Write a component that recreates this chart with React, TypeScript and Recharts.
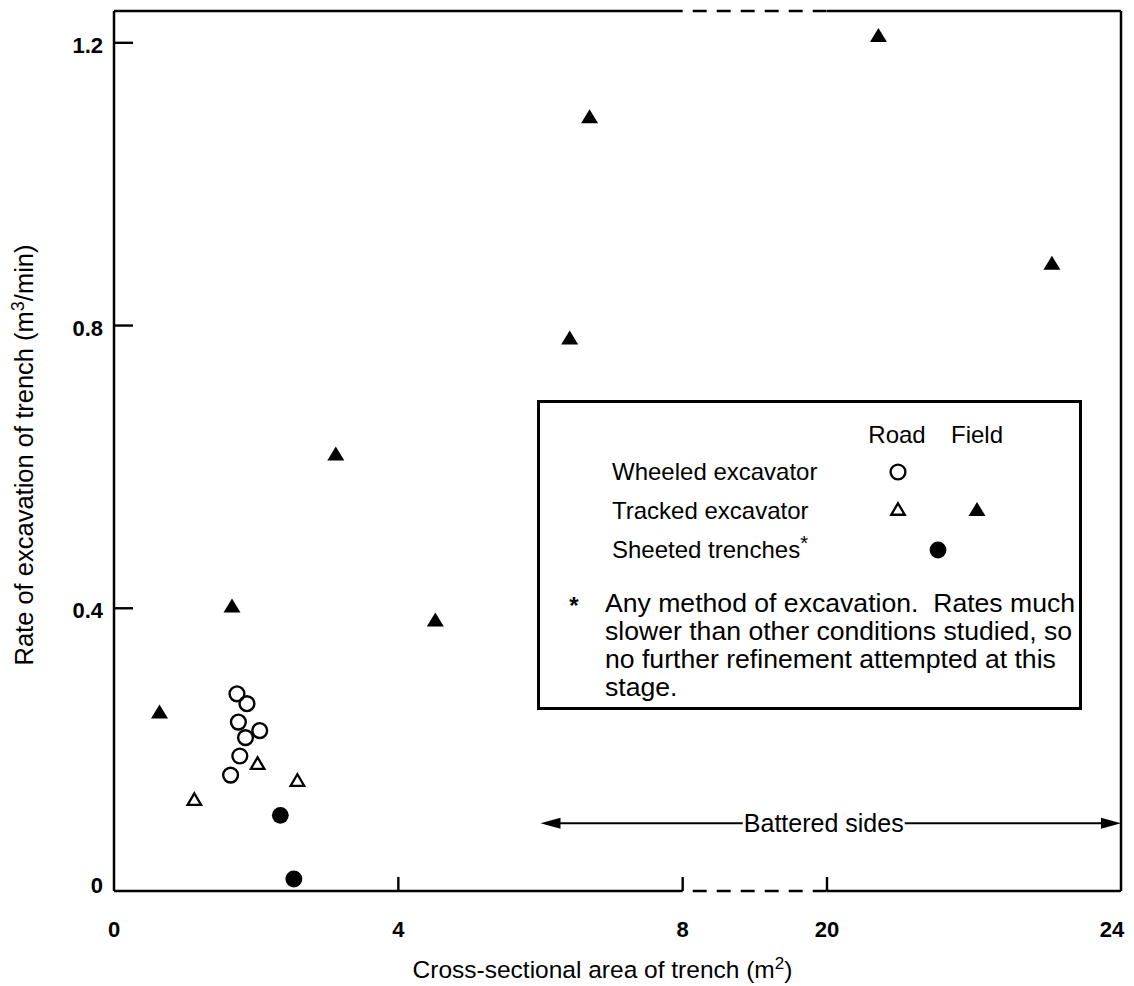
import { ScatterChart, Scatter, XAxis, YAxis, ReferenceLine, Legend } from "recharts";

const INK = "#000";
const FONT = "'Liberation Sans', Arial, Helvetica, sans-serif";

// x axis is broken between 8 and 20; the right-hand piece is drawn a touch wider, as in the original
const BREAK_LO = 8;
const BREAK_HI = 20;
const BREAK_GAP = 2.03;
const RIGHT_SCALE = 1.034;
const toAxis = (x: number) => (x <= BREAK_LO ? x : BREAK_LO + BREAK_GAP + (x - BREAK_HI) * RIGHT_SCALE);

const xTickValues = [0, 4, 8, 20, 24];
const yTickValues = [0, 0.4, 0.8, 1.2];
const X_MAX = 24;
const Y_MAX = 1.245;

// cross-sectional area (m2) / rate of excavation (m3/min)
const wheeledRoadArea = [1.73, 1.87, 1.75, 2.05, 1.85, 1.77, 1.64];
const wheeledRoadRate = [0.279, 0.265, 0.239, 0.227, 0.217, 0.191, 0.164];
const trackedRoadArea = [2.02, 2.58, 1.13];
const trackedRoadRate = [0.181, 0.157, 0.13];
const trackedFieldArea = [0.64, 1.66, 3.12, 4.52, 6.41, 6.69, 20.7, 23.06];
const trackedFieldRate = [0.254, 0.404, 0.619, 0.384, 0.783, 1.096, 1.211, 0.889];
const sheetedArea = [2.34, 2.53];
const sheetedRate = [0.107, 0.017];

const batteredFrom = 6;
const batteredTo = 24;
const batteredLevel = 0.096;

const legendRows = ["Wheeled excavator", "Tracked excavator", "Sheeted trenches"];
const footnoteLines = [
  "Any method of excavation.  Rates much",
  "slower than other conditions studied, so",
  "no further refinement attempted at this",
  "stage.",
];

const toPoints = (xs: number[], ys: number[]) => xs.map((x, i) => ({ t: toAxis(x), rate: ys[i] }));

const tri = (cx: number, cy: number, w: number, h: number) =>
  `${cx},${cy - h / 2} ${cx + w / 2},${cy + h / 2} ${cx - w / 2},${cy + h / 2}`;

function OpenCircle({ cx, cy }: any) {
  return <circle cx={cx} cy={cy} r={7.4} fill="none" stroke={INK} strokeWidth={2.4} />;
}
function FilledCircle({ cx, cy }: any) {
  return <circle cx={cx} cy={cy} r={8.4} fill={INK} />;
}
function OpenTriangle({ cx, cy }: any) {
  return <polygon points={tri(cx, cy, 13.5, 11.5)} fill="none" stroke={INK} strokeWidth={2.3} />;
}
function FilledTriangle({ cx, cy }: any) {
  return <polygon points={tri(cx, cy, 17, 14)} fill={INK} />;
}

function XTick({ x, y, payload }: any) {
  const label = xTickValues.find((v) => Math.abs(toAxis(v) - payload.value) < 1e-6);
  const inner = label !== 0 && label !== X_MAX;
  return (
    <g>
      {inner && <line x1={x} y1={y} x2={x} y2={y - 14} stroke={INK} strokeWidth={2.4} />}
      <text
        x={label === X_MAX ? x - 9 : x}
        y={y + 46}
        textAnchor="middle"
        fontSize={22}
        fontWeight={700}
        fontFamily={FONT}
        fill={INK}
      >
        {label}
      </text>
    </g>
  );
}

function YTick({ x, y, payload }: any) {
  const v = payload.value;
  return (
    <g>
      {v !== 0 && <line x1={x} y1={y} x2={x + 19} y2={y} stroke={INK} strokeWidth={2.4} />}
      <text
        x={x - 11}
        y={v === 0 ? y + 2 : y + 10}
        textAnchor="end"
        fontSize={22}
        fontWeight={700}
        fontFamily={FONT}
        fill={INK}
      >
        {v === 0 ? "0" : v.toFixed(1)}
      </text>
    </g>
  );
}

function XTitle({ viewBox }: any) {
  const cx = viewBox.x + viewBox.width / 2 - 15;
  return (
    <text x={cx} y={viewBox.y + 87} textAnchor="middle" fontSize={24.5} fontFamily={FONT} fill={INK}>
      Cross-sectional area of trench (m
      <tspan fontSize={17} dy={-9}>2</tspan>
      <tspan dy={9}>)</tspan>
    </text>
  );
}

function YTitle({ viewBox }: any) {
  const cy = viewBox.y + viewBox.height / 2 + 4;
  const x = 33;
  return (
    <text
      x={x}
      y={cy}
      transform={`rotate(-90, ${x}, ${cy})`}
      textAnchor="middle"
      fontSize={25.5}
      fontFamily={FONT}
      fill={INK}
    >
      Rate of excavation of trench (m
      <tspan fontSize={18} dy={-9}>3</tspan>
      <tspan dy={9}>/min)</tspan>
    </text>
  );
}

function BatteredArrow({ x1, y1, x2 }: any) {
  const head = 20;
  const half = 5.5;
  const mid = (x1 + x2) / 2 - 7;
  const gap = 81;
  return (
    <g>
      <line x1={x1 + head - 2} y1={y1} x2={mid - gap} y2={y1} stroke={INK} strokeWidth={2} />
      <line x1={mid + gap} y1={y1} x2={x2 - head + 2} y2={y1} stroke={INK} strokeWidth={2} />
      <polygon points={`${x1},${y1} ${x1 + head},${y1 - half} ${x1 + head},${y1 + half}`} fill={INK} />
      <polygon points={`${x2},${y1} ${x2 - head},${y1 - half} ${x2 - head},${y1 + half}`} fill={INK} />
      <text x={mid} y={y1 + 9} textAnchor="middle" fontSize={25} fontFamily={FONT} fill={INK}>
        Battered sides
      </text>
    </g>
  );
}

function LegendBox() {
  const rowY = [80, 119, 158];
  return (
    <svg width={545} height={310} style={{ display: "block" }} fontFamily={FONT} fill={INK}>
      <rect x={1.5} y={1.5} width={542} height={307} fill="#fff" stroke={INK} strokeWidth={3} />
      <text x={360} y={43} textAnchor="middle" fontSize={24}>Road</text>
      <text x={440} y={43} textAnchor="middle" fontSize={24}>Field</text>
      {legendRows.map((label, i) => (
        <text key={label} x={75} y={rowY[i]} fontSize={24}>
          {label}
          {i === 2 && <tspan fontSize={20} dy={-8}>*</tspan>}
        </text>
      ))}
      <OpenCircle cx={361} cy={72} />
      <OpenTriangle cx={361} cy={109} />
      <FilledTriangle cx={440} cy={109} />
      <FilledCircle cx={401} cy={150} />
      <text x={37} y={214} textAnchor="middle" fontSize={24} fontWeight={700}>*</text>
      {footnoteLines.map((line, i) => (
        <text key={i} x={68} y={212 + i * 28} fontSize={26.6} style={{ whiteSpace: "pre" }}>
          {line}
        </text>
      ))}
    </svg>
  );
}

export default function App() {
  const frame = { stroke: INK, strokeWidth: 2.5 };
  const dashed = { ...frame, strokeDasharray: "14 10", strokeDashoffset: 14 };
  const lo = toAxis(BREAK_LO);
  const hi = toAxis(BREAK_HI);
  const xr = toAxis(X_MAX);
  return (
    <div style={{ position: "absolute", left: 0, top: 0, background: "#fff" }}>
      <ScatterChart width={1134} height={986} margin={{ top: 11, right: 13, bottom: 0, left: 0 }}>
        <XAxis
          type="number"
          dataKey="t"
          domain={[0, xr]}
          ticks={xTickValues.map(toAxis)}
          allowDataOverflow
          axisLine={false}
          tickLine={false}
          tickSize={0}
          tickMargin={0}
          height={95}
          tick={<XTick />}
          interval={0}
          label={<XTitle />}
        />
        <YAxis
          type="number"
          dataKey="rate"
          domain={[0, Y_MAX]}
          ticks={yTickValues}
          allowDataOverflow
          axisLine={frame}
          tickLine={false}
          tickSize={0}
          tickMargin={0}
          width={114}
          tick={<YTick />}
          interval={0}
          label={<YTitle />}
        />

        <ReferenceLine segment={[{ x: 0, y: 0 }, { x: lo, y: 0 }]} {...frame} />
        <ReferenceLine segment={[{ x: lo, y: 0 }, { x: hi, y: 0 }]} {...dashed} />
        <ReferenceLine segment={[{ x: hi, y: 0 }, { x: xr, y: 0 }]} {...frame} />
        <ReferenceLine segment={[{ x: 0, y: Y_MAX }, { x: lo, y: Y_MAX }]} {...frame} />
        <ReferenceLine segment={[{ x: lo, y: Y_MAX }, { x: hi, y: Y_MAX }]} {...dashed} />
        <ReferenceLine segment={[{ x: hi, y: Y_MAX }, { x: xr, y: Y_MAX }]} {...frame} />
        <ReferenceLine x={xr} {...frame} />
        <ReferenceLine
          segment={[
            { x: toAxis(batteredFrom), y: batteredLevel },
            { x: toAxis(batteredTo), y: batteredLevel },
          ]}
          shape={(p: any) => <BatteredArrow {...p} />}
        />

        <Scatter
          name="Wheeled excavator (road)"
          data={toPoints(wheeledRoadArea, wheeledRoadRate)}
          shape={(p: any) => <OpenCircle cx={p.cx} cy={p.cy} />}
          isAnimationActive={false}
        />
        <Scatter
          name="Tracked excavator (road)"
          data={toPoints(trackedRoadArea, trackedRoadRate)}
          shape={(p: any) => <OpenTriangle cx={p.cx} cy={p.cy} />}
          isAnimationActive={false}
        />
        <Scatter
          name="Tracked excavator (field)"
          data={toPoints(trackedFieldArea, trackedFieldRate)}
          shape={(p: any) => <FilledTriangle cx={p.cx} cy={p.cy} />}
          isAnimationActive={false}
        />
        <Scatter
          name="Sheeted trenches"
          data={toPoints(sheetedArea, sheetedRate)}
          shape={(p: any) => <FilledCircle cx={p.cx} cy={p.cy} />}
          isAnimationActive={false}
        />

        <Legend
          layout="horizontal"
          verticalAlign="middle"
          align="center"
          content={() => <LegendBox />}
          wrapperStyle={{ position: "absolute", left: 537, top: 400, width: 545, height: 310 }}
        />
      </ScatterChart>
    </div>
  );
}
